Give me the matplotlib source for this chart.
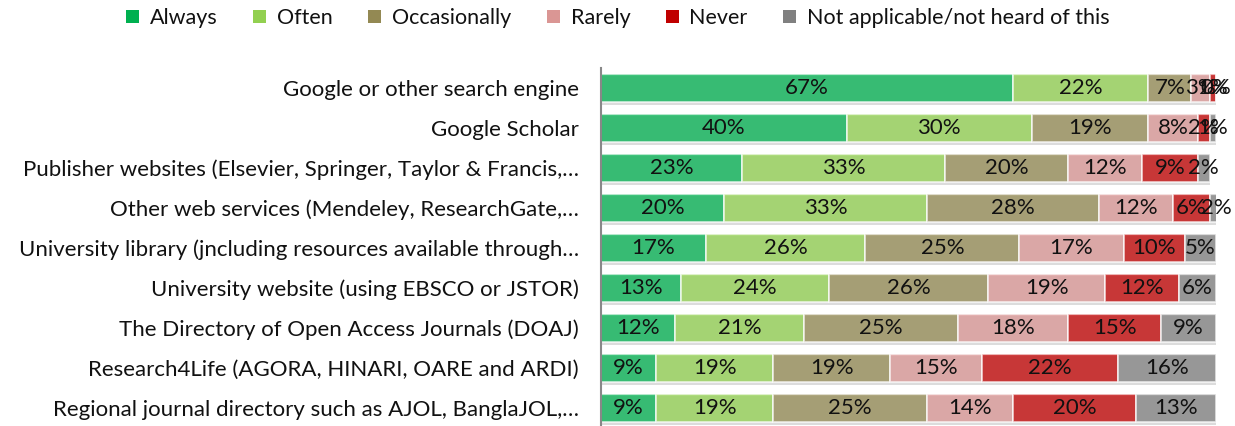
import matplotlib
matplotlib.use("Agg")
import matplotlib.pyplot as plt
import matplotlib.patheffects as pe
from matplotlib.patches import Patch
import numpy as np

plt.rcParams['font.family'] = ['Lato', 'DejaVu Sans']

categories = [
    "Google or other search engine",
    "Google Scholar",
    "Publisher websites (Elsevier, Springer, Taylor & Francis,\u2026",
    "Other web services (Mendeley, ResearchGate,\u2026",
    "University library (jncluding resources available through\u2026",
    "University website (using EBSCO or JSTOR)",
    "The Directory of Open Access Journals (DOAJ)",
    "Research4Life (AGORA, HINARI, OARE and ARDI)",
    "Regional journal directory such as AJOL, BanglaJOL,\u2026",
]
series_names = ["Always", "Often", "Occasionally", "Rarely", "Never",
                "Not applicable/not heard of this"]
always     = [67, 40, 23, 20, 17, 13, 12, 9, 9]
often      = [22, 30, 33, 33, 26, 24, 21, 19, 19]
occasional = [7, 19, 20, 28, 25, 26, 25, 19, 25]
rarely     = [3, 8, 12, 12, 17, 19, 18, 15, 14]
never      = [1, 2, 9, 6, 10, 12, 15, 22, 20]
not_appl   = [0, 1, 2, 2, 5, 6, 9, 16, 13]
series = [always, often, occasional, rarely, never, not_appl]
colors = ["#00B050", "#92D050", "#938953", "#DA9694", "#C00000", "#808080"]

W, H = 1235, 426
fig = plt.figure(figsize=(W / 100, H / 100), dpi=100)
ax = fig.add_axes([601 / W, 0, (1216 - 601) / W, (426 - 68) / H])

y = np.arange(len(categories))
left = np.zeros(len(categories))
for vals, col, name in zip(series, colors, series_names):
    vals = np.array(vals, dtype=float)
    ax.barh(y, vals, left=left, height=0.72, color=col, alpha=0.75,
            edgecolor="white", linewidth=1.2, label=name,
            path_effects=[pe.SimplePatchShadow(offset=(0, -2), shadow_rgbFace="#bbbbbb", alpha=0.5),
                          pe.Normal()])
    for yi, v, l in zip(y, vals, left):
        ax.text(l + v / 2, yi, f"{int(v)}%", ha="center", va="center",
                fontsize=16, color="#111111")
    left += vals

ax.set_xlim(0, 100)
ax.set_ylim(8.45, -0.5)
ax.set_yticks(y)
ax.set_yticklabels(categories, fontsize=16, color="#111111")
ax.tick_params(axis="y", length=0, pad=16)
ax.set_xticks([])
for s in ["top", "right", "bottom"]:
    ax.spines[s].set_visible(False)
ax.spines["left"].set_color("#888888")
ax.spines["left"].set_linewidth(1.5)

leg_handles = [Patch(facecolor=c, edgecolor="none") for c in colors]
fig.legend(leg_handles, series_names, loc="center", bbox_to_anchor=(618 / W, 1 - 18 / H),
           ncol=6, frameon=False, fontsize=15.5, handlelength=0.6, handleheight=0.6,
           handletextpad=0.5, columnspacing=1.65, labelcolor="#111111")

fig.savefig("out.png", dpi=100)
